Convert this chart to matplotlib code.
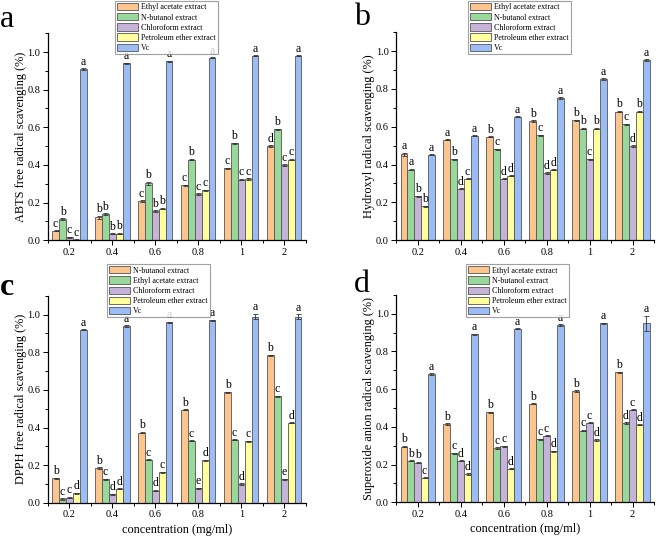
import numpy as np
import matplotlib
matplotlib.use("Agg")
import matplotlib.pyplot as plt
from matplotlib.ticker import MultipleLocator, FixedLocator

plt.rcParams['font.family'] = ['Liberation Serif', 'DejaVu Serif']

concentrations = ['0.2', '0.4', '0.6', '0.8', '1', '2']
colors = ['#FDC58E', '#98D89A', '#C6B3DA', '#FFFF9E', '#9BBCF4']

# panel a - ABTS
a_labels = ['Ethyl acetate extract', 'N-butanol extract', 'Chloroform extract',
            'Petroleum ether extract', 'Vc']
a_vals = [
    [0.050, 0.122, 0.208, 0.292, 0.382, 0.500],
    [0.113, 0.138, 0.302, 0.428, 0.515, 0.590],
    [0.015, 0.033, 0.155, 0.245, 0.322, 0.400],
    [0.003, 0.035, 0.168, 0.265, 0.325, 0.428],
    [0.910, 0.940, 0.950, 0.970, 0.980, 0.980],
]
a_err = [
    [0.003, 0.008, 0.004, 0.003, 0.003, 0.004],
    [0.004, 0.004, 0.008, 0.003, 0.003, 0.003],
    [0.002, 0.003, 0.004, 0.004, 0.003, 0.004],
    [0.001, 0.003, 0.003, 0.003, 0.003, 0.004],
    [0.003, 0.003, 0.005, 0.003, 0.003, 0.003],
]
a_sig = [
    ['c', 'b', 'c', 'c', 'c', 'd'],
    ['b', 'b', 'b', 'b', 'b', 'b'],
    ['c', 'b', 'b', 'c', 'c', 'c'],
    ['c', 'b', 'b', 'c', 'c', 'c'],
    ['a', 'a', 'a', 'a', 'a', 'a'],
]

# panel b - hydroxyl
b_labels = a_labels
b_vals = [
    [0.455, 0.530, 0.546, 0.630, 0.635, 0.680],
    [0.373, 0.427, 0.480, 0.555, 0.590, 0.613],
    [0.232, 0.272, 0.325, 0.355, 0.428, 0.498],
    [0.180, 0.325, 0.340, 0.372, 0.590, 0.680],
    [0.452, 0.552, 0.652, 0.752, 0.852, 0.952],
]
b_err = [
    [0.008, 0.003, 0.003, 0.003, 0.003, 0.003],
    [0.003, 0.003, 0.003, 0.003, 0.003, 0.003],
    [0.003, 0.003, 0.003, 0.003, 0.003, 0.003],
    [0.003, 0.003, 0.003, 0.003, 0.003, 0.003],
    [0.003, 0.003, 0.003, 0.003, 0.003, 0.005],
]
b_sig = [
    ['a', 'a', 'b', 'b', 'b', 'b'],
    ['a', 'b', 'c', 'c', 'b', 'c'],
    ['b', 'd', 'd', 'd', 'c', 'd'],
    ['b', 'c', 'd', 'd', 'b', 'b'],
    ['a', 'a', 'a', 'a', 'a', 'a'],
]

# panel c - DPPH
c_labels = ['N-butanol extract', 'Ethyl acetate extract', 'Chloroform extract',
            'Petroleum ether extract', 'Vc']
c_vals = [
    [0.130, 0.185, 0.373, 0.495, 0.588, 0.785],
    [0.018, 0.125, 0.228, 0.330, 0.335, 0.565],
    [0.028, 0.045, 0.065, 0.078, 0.100, 0.125],
    [0.050, 0.075, 0.163, 0.225, 0.328, 0.425],
    [0.920, 0.940, 0.960, 0.970, 0.990, 0.990],
]
c_err = [
    [0.003, 0.003, 0.003, 0.003, 0.003, 0.003],
    [0.005, 0.003, 0.003, 0.003, 0.003, 0.003],
    [0.003, 0.003, 0.003, 0.003, 0.003, 0.003],
    [0.003, 0.003, 0.003, 0.003, 0.003, 0.003],
    [0.003, 0.003, 0.003, 0.003, 0.015, 0.012],
]
c_sig = [
    ['b', 'b', 'b', 'b', 'b', 'b'],
    ['c', 'c', 'c', 'c', 'c', 'c'],
    ['c', 'd', 'd', 'e', 'd', 'e'],
    ['d', 'd', 'c', 'd', 'c', 'd'],
    ['a', 'a', 'a', 'a', 'a', 'a'],
]

# panel d - superoxide anion
d_labels = a_labels
d_vals = [
    [0.295, 0.415, 0.477, 0.522, 0.590, 0.690],
    [0.220, 0.260, 0.287, 0.333, 0.380, 0.420],
    [0.210, 0.220, 0.297, 0.353, 0.422, 0.490],
    [0.130, 0.150, 0.177, 0.270, 0.330, 0.410],
    [0.680, 0.890, 0.920, 0.940, 0.950, 0.950],
]
d_err = [
    [0.004, 0.003, 0.003, 0.003, 0.003, 0.003],
    [0.003, 0.003, 0.004, 0.003, 0.004, 0.005],
    [0.003, 0.003, 0.003, 0.003, 0.003, 0.003],
    [0.003, 0.003, 0.003, 0.003, 0.003, 0.003],
    [0.003, 0.003, 0.003, 0.003, 0.003, 0.040],
]
d_sig = [
    ['b', 'b', 'b', 'b', 'b', 'b'],
    ['b', 'c', 'c', 'c', 'c', 'd'],
    ['b', 'd', 'c', 'c', 'c', 'c'],
    ['c', 'd', 'd', 'd', 'd', 'd'],
    ['a', 'a', 'a', 'a', 'a', 'a'],
]


def draw_panel(ax, labels, vals, errs, sigs, ylabel, xlabel, leg_pos):
    x = np.arange(len(concentrations))
    w = 0.16
    handles = []
    for i in range(5):
        pos = x + (i - 2) * w
        h = ax.bar(pos, vals[i], w, color=colors[i], edgecolor='#555555',
                   linewidth=0.6, label=labels[i])
        handles.append(h)
        ax.errorbar(pos, vals[i], yerr=errs[i], fmt='none', ecolor='#333333',
                    elinewidth=0.6, capsize=1.8, capthick=0.6)
        for p, v, e, s in zip(pos, vals[i], errs[i], sigs[i]):
            ax.text(p, v + e + 0.003, s, ha='center', va='bottom', fontsize=8.5)
    ax.set_xlim(-0.5, 5.5)
    ax.set_ylim(0, 1.1)
    ax.set_xticks(x)
    ax.set_xticklabels(concentrations, fontsize=7.5)
    ax.xaxis.set_minor_locator(FixedLocator(np.arange(-0.5, 6, 1)))
    ax.yaxis.set_minor_locator(MultipleLocator(0.1))
    ax.set_yticks(np.arange(0, 1.01, 0.2))
    ax.set_yticklabels(['%.1f' % t for t in np.arange(0, 1.01, 0.2)], fontsize=7.5)
    ax.tick_params(which='major', length=3.5, width=0.7, direction='out', pad=2)
    ax.tick_params(which='minor', length=2, width=0.7, direction='out')
    for s in ['top', 'right']:
        ax.spines[s].set_visible(False)
    for s in ['left', 'bottom']:
        ax.spines[s].set_linewidth(0.9)
    ax.set_ylabel(ylabel, fontsize=8.8, labelpad=0.5)
    if xlabel:
        ax.set_xlabel(xlabel, fontsize=8.8, labelpad=3)
    leg = ax.figure.legend(handles=handles, loc='upper left', bbox_to_anchor=leg_pos,
                           prop={'size': 5.8}, frameon=True, fancybox=False,
                           edgecolor='#888888', handlelength=2.6, handleheight=1.0,
                           handletextpad=0.4, labelspacing=0.22, borderpad=0.25,
                           borderaxespad=0)
    leg.get_frame().set_linewidth(0.8)
    leg.set_zorder(5)
    return ax


fig = plt.figure(figsize=(6.56, 5.36), dpi=100)

ax_a = fig.add_axes([0.073, 0.552, 0.393, 0.386])
draw_panel(ax_a, a_labels, a_vals, a_err, a_sig,
           'ABTS free radical scavenging (%)', None, (0.175, 0.998))
ax_b = fig.add_axes([0.604, 0.552, 0.393, 0.388])
draw_panel(ax_b, b_labels, b_vals, b_err, b_sig,
           'Hydroxyl radical scavenging (%)', None, (0.713, 0.998))
ax_c = fig.add_axes([0.073, 0.062, 0.393, 0.386])
draw_panel(ax_c, c_labels, c_vals, c_err, c_sig,
           'DPPH free radical scavenging (%)', 'concentration (mg/ml)', (0.163, 0.507))
ax_d = fig.add_axes([0.604, 0.063, 0.393, 0.387])
draw_panel(ax_d, d_labels, d_vals, d_err, d_sig,
           'Superoxide anion radical scavenging (%)', 'concentration (mg/ml)', (0.710, 0.507))

fig.text(0.0, 0.950, 'a', fontsize=23, ha='left', va='baseline')
fig.text(0.540, 0.953, 'b', fontsize=23, ha='left', va='baseline')
fig.text(0.0, 0.450, 'c', fontsize=23, ha='left', va='baseline', fontweight='bold')
fig.text(0.540, 0.456, 'd', fontsize=23, ha='left', va='baseline')

fig.savefig('out.png', dpi=100)
